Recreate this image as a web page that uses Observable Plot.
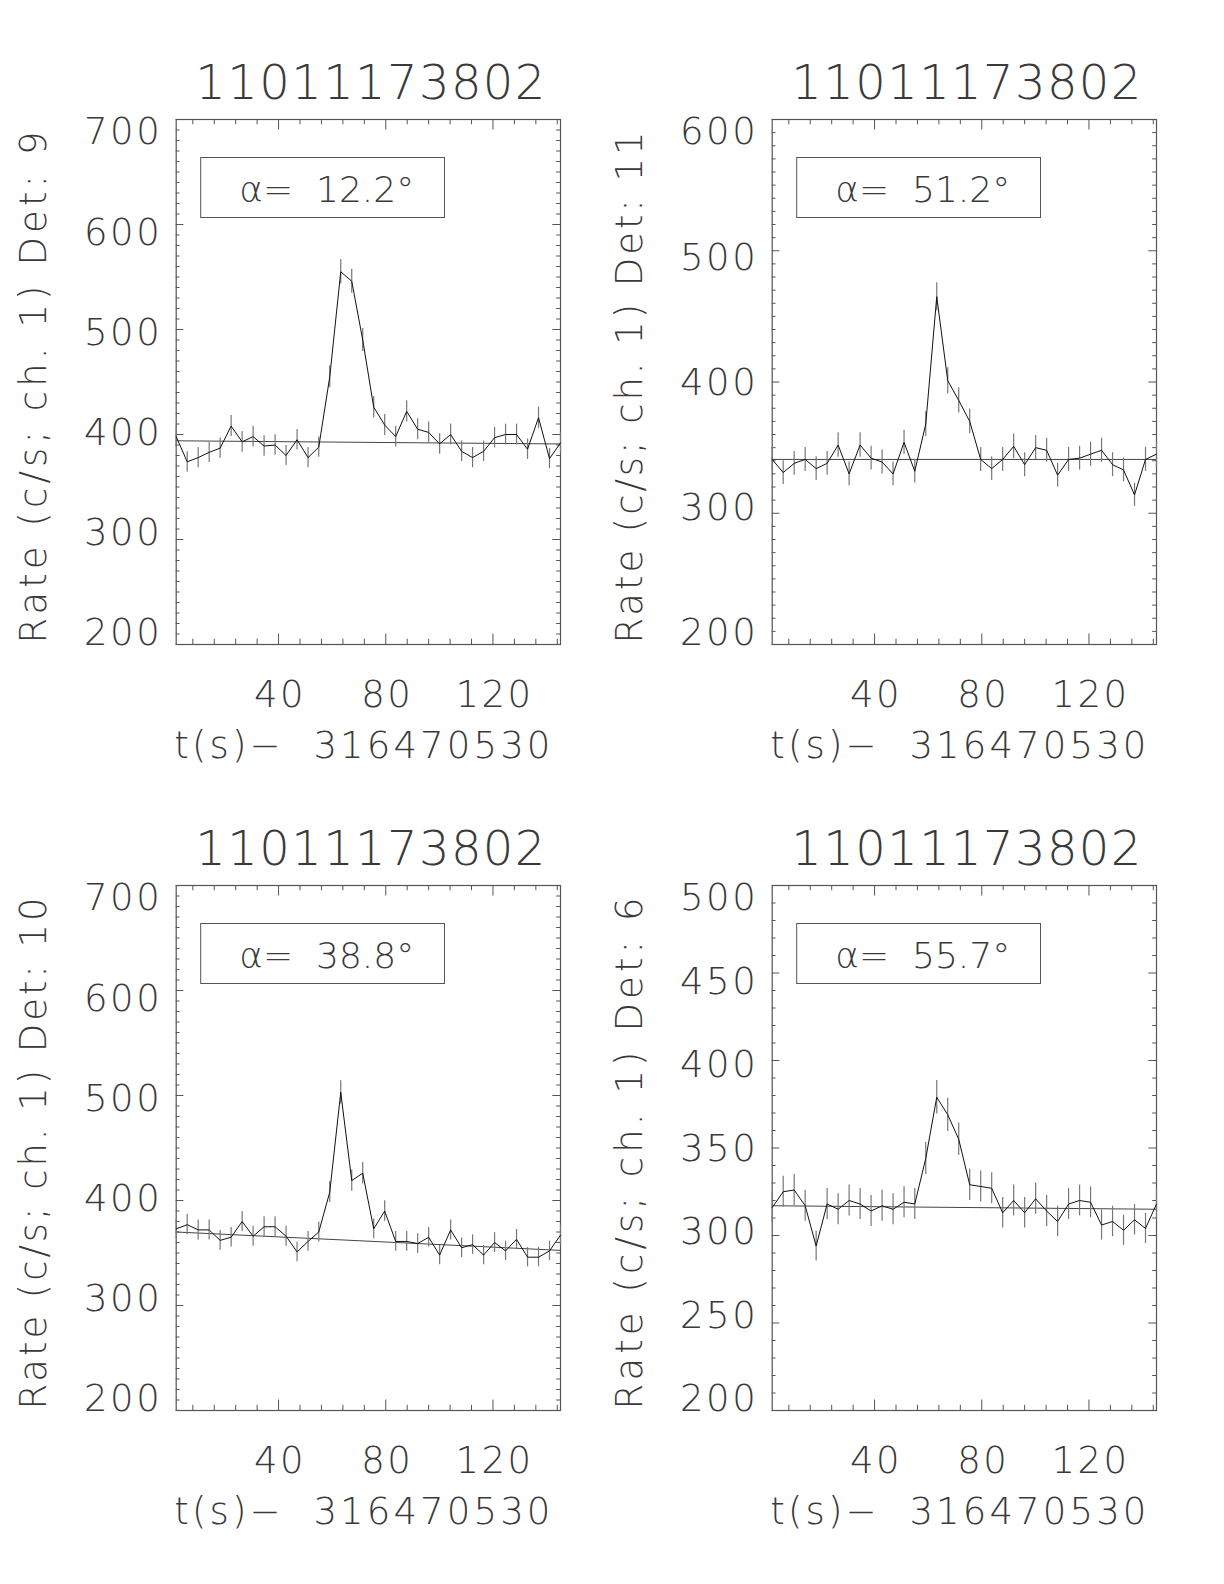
<!DOCTYPE html>
<html><head><meta charset="utf-8">
<script src="https://cdn.jsdelivr.net/npm/d3@7"></script>
<script src="https://cdn.jsdelivr.net/npm/@observablehq/plot@0.6"></script>
<style>
body{margin:0;background:#fff;}
#wrap{position:relative;width:1224px;height:1584px;background:#fff;overflow:hidden;}
.panel{position:absolute;}
</style></head><body><div id="wrap"></div>
<script>
// ---------------- data ----------------
const obsTitle = "11011173802";
const xAxisLabel = "t(s)\u2212\u00a0 316470530";
const times = [1.8, 5.9, 10.0, 14.1, 18.2, 22.3, 26.4, 30.5, 34.6, 38.7, 42.8, 46.9,
  51.0, 55.0, 59.1, 63.2, 67.3, 71.4, 75.5, 79.6, 83.7, 87.8, 91.9, 96.0,
  100.1, 104.2, 108.3, 112.4, 116.5, 120.6, 124.7, 128.8, 132.9, 137.0, 141.1, 145.2];
const xTickLabels = [40, 80, 120];
const xMinorTicks = [8, 16, 24, 32, 48, 56, 64, 72, 88, 96, 104, 112, 128, 136, 144];

const detectors = [9, 11, 10, 6];
const alphas = ["12.2", "51.2", "38.8", "55.7"];

const rateDet9 = [398, 374, 378, 383, 387, 408, 393, 398, 389, 390, 380, 395,
  378, 388, 455, 555, 546, 490, 426, 409, 398, 422, 405, 402,
  391, 400, 384, 378, 384, 397, 400, 400, 386, 416, 377, 392];
const errDet9 = [9.9, 9.6, 9.6, 9.7, 9.7, 10.0, 9.8, 9.9, 9.7, 9.8, 9.6, 9.8,
  9.6, 9.7, 10.5, 11.6, 11.5, 10.9, 10.2, 10.0, 9.9, 10.1, 9.9, 9.9,
  9.8, 9.9, 9.7, 9.6, 9.7, 9.8, 9.9, 9.9, 9.7, 10.1, 9.6, 9.8];
const bgDet9 = [394, 391];
const yTicksDet9 = [200, 300, 400, 500, 600, 700];

const rateDet11 = [341, 331, 338, 341, 334, 338, 352, 330, 352, 342, 339, 330,
  354, 332, 368, 465, 401, 386, 370, 341, 334, 341, 351, 337,
  350, 348, 329, 341, 342, 345, 348, 337, 333, 314, 341, 345];
const errDet11 = [9.1, 9.0, 9.1, 9.1, 9.0, 9.1, 9.3, 9.0, 9.3, 9.1, 9.1, 9.0,
  9.3, 9.0, 9.5, 10.7, 9.9, 9.7, 9.5, 9.1, 9.0, 9.1, 9.3, 9.1,
  9.2, 9.2, 9.0, 9.1, 9.1, 9.2, 9.2, 9.1, 9.0, 8.8, 9.1, 9.2];
const bgDet11 = [341, 341];
const yTicksDet11 = [200, 300, 400, 500, 600];

const rateDet10 = [373, 377, 372, 372, 362, 365, 380, 366, 375, 375, 366, 351,
  361, 370, 408, 503, 419, 426, 373, 390, 361, 361, 359, 365,
  348, 372, 355, 358, 348, 360, 352, 363, 346, 346, 352, 367];
const errDet10 = [9.5, 9.6, 9.5, 9.5, 9.4, 9.4, 9.6, 9.5, 9.6, 9.6, 9.5, 9.3,
  9.4, 9.5, 10.0, 11.1, 10.1, 10.2, 9.5, 9.8, 9.4, 9.4, 9.4, 9.4,
  9.2, 9.5, 9.3, 9.3, 9.2, 9.4, 9.3, 9.4, 9.2, 9.2, 9.3, 9.5];
const bgDet10 = [370, 352.5];
const yTicksDet10 = [200, 300, 400, 500, 600, 700];

const rateDet6 = [316, 325, 326, 317, 294, 318, 315, 320, 318, 314, 317, 315,
  319, 318, 344, 379, 369, 355, 329, 328, 327, 313, 320, 313,
  321, 314, 308, 318, 320, 319, 306, 308, 303, 309, 304, 318];
const errDet6 = [8.8, 8.9, 8.9, 8.8, 8.5, 8.8, 8.8, 8.8, 8.8, 8.8, 8.8, 8.8,
  8.8, 8.8, 9.2, 9.6, 9.5, 9.3, 9.0, 8.9, 8.9, 8.7, 8.8, 8.7,
  8.9, 8.8, 8.7, 8.8, 8.8, 8.8, 8.6, 8.7, 8.6, 8.7, 8.6, 8.8];
const bgDet6 = [317, 315];
const yTicksDet6 = [200, 250, 300, 350, 400, 450, 500];

const yDomains = [[200, 700], [200, 600], [200, 700], [200, 500]];
const minorSteps = [10, 10, 10, 10];

// ---------------- layout ----------------
const FONT = "'DejaVu Sans', sans-serif";
const PW = 612, PH = 766;
const ML = 175.7, MR = 52, MT = 119, MB = 122;
const FW = PW - ML - MR, FH = PH - MT - MB;
const INK = "#3a3a3a", FRAME = "#555";
const LABEL_SQUEEZE = 0.046; // tick labels drawn slightly toward the axis centre, as in the original

function makePanel(k, rates, errs, bg, yTicks) {
  const det = detectors[k], alpha = alphas[k], yDomain = yDomains[k];
  const yMid = (yDomain[0] + yDomain[1]) / 2;
  const rows = times.map((t, i) => ({t, r: rates[i], e: errs[i]}));
  const bgRows = [{t: times[0], r: bg[0]}, {t: times[times.length - 1], r: bg[1]}];
  const yMinor = d3.range(yDomain[0], yDomain[1] + 0.001, minorSteps[k]).filter(v => !yTicks.includes(v));
  const xLen = FH * 0.02, yLen = FW * 0.02;
  const yLabel = `Rate (c/s; ch. 1) Det: ${det}`;
  const alphaLabel = `\u03b1=\u00a0 ${alpha}\u00b0`;
  const svg = Plot.plot({
    width: PW, height: PH,
    marginLeft: ML, marginRight: MR, marginTop: MT, marginBottom: MB,
    x: {domain: [times[0], times[times.length - 1]], axis: null},
    y: {domain: yDomain, axis: null},
    style: {fontFamily: FONT, background: "white", color: INK},
    marks: [
      // ticks (inward on all sides)
      Plot.tickX(xTickLabels, {x: d => d, insetTop: FH - xLen, stroke: FRAME}),
      Plot.tickX(xTickLabels, {x: d => d, insetBottom: FH - xLen, stroke: FRAME}),
      Plot.tickX(xMinorTicks, {x: d => d, insetTop: FH - xLen / 2, stroke: FRAME}),
      Plot.tickX(xMinorTicks, {x: d => d, insetBottom: FH - xLen / 2, stroke: FRAME}),
      Plot.tickY(yTicks, {y: d => d, insetRight: FW - yLen, stroke: FRAME}),
      Plot.tickY(yTicks, {y: d => d, insetLeft: FW - yLen, stroke: FRAME}),
      Plot.tickY(yMinor, {y: d => d, insetRight: FW - yLen / 2, stroke: FRAME}),
      Plot.tickY(yMinor, {y: d => d, insetLeft: FW - yLen / 2, stroke: FRAME}),
      Plot.frame({stroke: FRAME, strokeWidth: 1.2}),
      // legend box
      Plot.frame({stroke: FRAME, insetLeft: 24.5, insetRight: 116, insetTop: 38, insetBottom: 427}),
      Plot.text([alphaLabel], {frameAnchor: "top-left", textAnchor: "start", lineAnchor: "bottom",
        dx: 63, dy: 82, fontSize: 36, fontWeight: 200, fill: INK}),
      // background fit
      Plot.line(bgRows, {x: "t", y: "r", stroke: "#444", strokeWidth: 1}),
      // error bars
      Plot.ruleX(rows, {x: "t", y1: d => d.r - d.e, y2: d => d.r + d.e, stroke: "#777", strokeWidth: 1.2}),
      // light curve
      Plot.line(rows, {x: "t", y: "r", stroke: "#111", strokeWidth: 1}),
      // tick labels
      Plot.text(yTicks, {y: d => d + (yMid - d) * LABEL_SQUEEZE, text: d => String(d), frameAnchor: "left",
        textAnchor: "end", lineAnchor: "middle", dx: -14, dy: 1,
        fontSize: 37, fontWeight: 200, fill: INK}),
      Plot.text(xTickLabels, {x: d => d, text: d => String(d), frameAnchor: "bottom", lineAnchor: "bottom", dx: 1.5, dy: 62,
        fontSize: 37, fontWeight: 200, fill: INK}),
      // axis titles
      Plot.text([xAxisLabel], {frameAnchor: "bottom", lineAnchor: "bottom", dx: -6, dy: 113.5,
        fontSize: 37, fontWeight: 200, fill: INK}),
      Plot.text([yLabel], {frameAnchor: "left", rotate: -90, lineAnchor: "bottom",
        textAnchor: "middle", dx: -130, dy: 5.5, fontSize: 37, fontWeight: 200, fill: INK}),
      Plot.text([obsTitle], {frameAnchor: "top", lineAnchor: "bottom", dx: 2, dy: -21,
        fontSize: 48, fontWeight: 200, fill: INK})
    ]
  });
  const texts = d3.select(svg).selectAll("text");
  const fit = (content, len) => texts.filter(function () { return this.textContent === content; })
    .attr("textLength", len).attr("lengthAdjust", "spacing");
  fit(yLabel, 512);
  fit(obsTitle, 350);
  fit(xAxisLabel, 376);
  const tickStrings = new Set([...yTicks, ...xTickLabels].map(String));
  texts.filter(function () { return tickStrings.has(this.textContent); }).attr("letter-spacing", "2.5px");
  return svg;
}

const wrap = document.getElementById("wrap");
const specs = [
  [0, rateDet9, errDet9, bgDet9, yTicksDet9, 0, 0],
  [1, rateDet11, errDet11, bgDet11, yTicksDet11, 596, 0],
  [2, rateDet10, errDet10, bgDet10, yTicksDet10, 0, 766],
  [3, rateDet6, errDet6, bgDet6, yTicksDet6, 596, 766]
];
for (const [k, r, e, bg, yt, left, top] of specs) {
  const div = document.createElement("div");
  div.className = "panel";
  div.style.left = left + "px";
  div.style.top = top + "px";
  div.appendChild(makePanel(k, r, e, bg, yt));
  wrap.appendChild(div);
}
</script></body></html>
